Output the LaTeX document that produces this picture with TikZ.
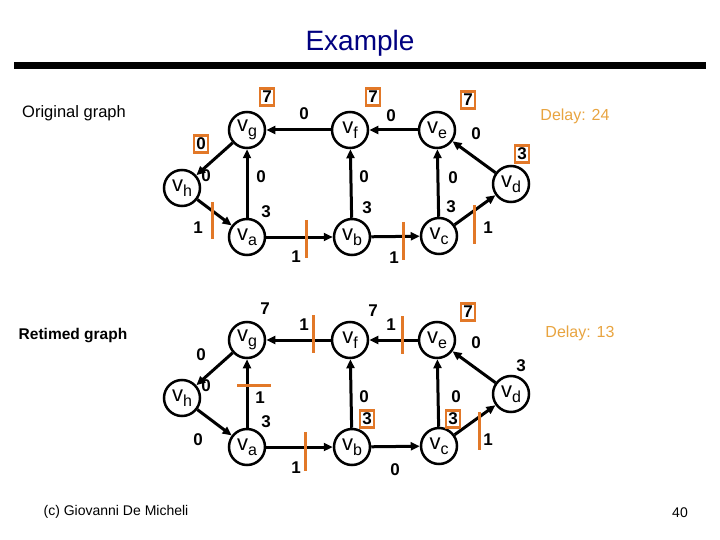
\documentclass[tikz,border=0pt]{standalone}
\usepackage{fontspec}
\setmainfont{Liberation Sans}
\usetikzlibrary{arrows.meta}
\definecolor{regor}{RGB}{226,120,40}
\definecolor{delayor}{RGB}{232,164,64}
\definecolor{titleblue}{RGB}{0,0,128}
\newcommand{\vlab}[1]{{\fontsize{22}{22}\selectfont v\raisebox{-5pt}{\fontsize{16}{16}\selectfont #1}}}
\begin{document}
\begin{tikzpicture}[x=1pt,y=-1pt,
  nd/.style={circle,draw,line width=2.5pt,minimum size=36pt,inner sep=0pt},
  ed/.style={line width=3pt,-{Triangle[length=9pt,width=8pt]}},
  lbl/.style={font=\fontsize{17}{17}\selectfont\bfseries,inner sep=0pt},
  bx/.style={lbl,draw=regor,line width=2.5pt,inner sep=2.5pt},
  reg/.style={draw=regor,line width=3pt},
  delay/.style={font=\fontsize{16}{16}\selectfont,text=delayor,inner sep=0pt}]
\useasboundingbox (0,0) rectangle (720,540);
% title
\node[font=\fontsize{28}{28}\selectfont,text=titleblue] (title) at (360,43) {Example};
\fill (14,62) rectangle (706,69);
% ---------- original graph ----------
\node[font=\fontsize{16.5}{16.5}\selectfont,inner sep=0pt] (orig) at (74,113) {Original graph};
\node[delay] (d1) at (575,116) {Delay: 24};
\node[nd] (g1) at (247,130) {\vlab{g}};
\node[nd] (f1) at (350,130) {\vlab{f}};
\node[nd] (e1) at (437,130) {\vlab{e}};
\node[nd] (h1) at (182,188) {\vlab{h}};
\node[nd] (d1n) at (511,184) {\vlab{d}};
\node[nd] (a1) at (247,237) {\vlab{a}};
\node[nd] (b1) at (352,237) {\vlab{b}};
\node[nd] (c1) at (439,236) {\vlab{c}};
\draw[ed] (f1) -- (g1);
\draw[ed] (e1) -- (f1);
\draw[ed] (d1n) -- (e1);
\draw[ed] (g1) -- (h1);
\draw[ed] (h1) -- (a1);
\draw[ed] (a1) -- (b1);
\draw[ed] (b1) -- (c1);
\draw[ed] (c1) -- (d1n);
\draw[ed] (a1) -- (g1);
\draw[ed] (b1) -- (f1);
\draw[ed] (c1) -- (e1);
% registers
\draw[reg] (212,202) -- (212,239);
\draw[reg] (306.5,220) -- (306.5,258);
\draw[reg] (403,222) -- (403,260);
\draw[reg] (474,205) -- (474,244);
% labels
\node[bx] (t1g) at (267,97) {7};
\node[bx] (t1f) at (373,97) {7};
\node[bx] (t1e) at (468,100) {7};
\node[bx] (t1d) at (522,154) {3};
\node[bx] (t1h) at (201,144) {0};
\node[lbl] (w1fg) at (304,114) {0};
\node[lbl] (w1ef) at (391,116) {0};
\node[lbl] (w1de) at (476,134) {0};
\node[lbl] (w1gh) at (206,176) {0};
\node[lbl] (w1ag) at (261,177) {0};
\node[lbl] (w1bf) at (364,177) {0};
\node[lbl] (w1ce) at (453,178) {0};
\node[lbl] (t1a) at (266,212) {3};
\node[lbl] (t1b) at (367,208) {3};
\node[lbl] (t1c) at (451,207) {3};
\node[lbl] (w1ha) at (198,228) {1};
\node[lbl] (w1ab) at (296,257) {1};
\node[lbl] (w1bc) at (394,258) {1};
\node[lbl] (w1cd) at (488,228) {1};
% ---------- retimed graph ----------
\node[font=\fontsize{15.5}{15.5}\selectfont\bfseries,inner sep=0pt] (ret) at (73,336) {Retimed graph};
\node[delay] (d2) at (580,333) {Delay: 13};
\node[nd] (g2) at (247,340) {\vlab{g}};
\node[nd] (f2) at (350,340) {\vlab{f}};
\node[nd] (e2) at (437,340) {\vlab{e}};
\node[nd] (h2) at (182,398) {\vlab{h}};
\node[nd] (d2n) at (511,394) {\vlab{d}};
\node[nd] (a2) at (247,447) {\vlab{a}};
\node[nd] (b2) at (352,447) {\vlab{b}};
\node[nd] (c2) at (439,446) {\vlab{c}};
\draw[ed] (f2) -- (g2);
\draw[ed] (e2) -- (f2);
\draw[ed] (d2n) -- (e2);
\draw[ed] (g2) -- (h2);
\draw[ed] (h2) -- (a2);
\draw[ed] (a2) -- (b2);
\draw[ed] (b2) -- (c2);
\draw[ed] (c2) -- (d2n);
\draw[ed] (a2) -- (g2);
\draw[ed] (b2) -- (f2);
\draw[ed] (c2) -- (e2);
% registers
\draw[reg] (313,315) -- (313,353);
\draw[reg] (402.5,316) -- (402.5,354);
\draw[reg] (237,385) -- (271,385);
\draw[reg] (305,432) -- (305,471);
\draw[reg] (479,412) -- (479,450);
% labels
\node[lbl] (t2g) at (265,309) {7};
\node[lbl] (t2f) at (373,311) {7};
\node[bx] (t2e) at (468,312) {7};
\node[lbl] (t2d) at (521,366) {3};
\node[lbl] (t2h) at (201,355) {0};
\node[lbl] (w2fg) at (304,325) {1};
\node[lbl] (w2ef) at (391,325) {1};
\node[lbl] (w2de) at (476,343) {0};
\node[lbl] (w2gh) at (206,386) {0};
\node[lbl] (w2ag) at (260,398) {1};
\node[lbl] (w2bf) at (364,397) {0};
\node[lbl] (w2ce) at (456,397) {0};
\node[lbl] (t2a) at (266,422) {3};
\node[bx] (t2b) at (367,419) {3};
\node[bx] (t2c) at (453,419) {3};
\node[lbl] (w2ha) at (198,440) {0};
\node[lbl] (w2ab) at (296,468) {1};
\node[lbl] (w2bc) at (395,470) {0};
\node[lbl] (w2cd) at (488,440) {1};
% footer
\node[font=\fontsize{14}{14}\selectfont,inner sep=0pt] (copy) at (116,512) {(c) Giovanni De Micheli};
\node[font=\fontsize{14}{14}\selectfont,inner sep=0pt] (page) at (680,513) {40};
\end{tikzpicture}
\end{document}
